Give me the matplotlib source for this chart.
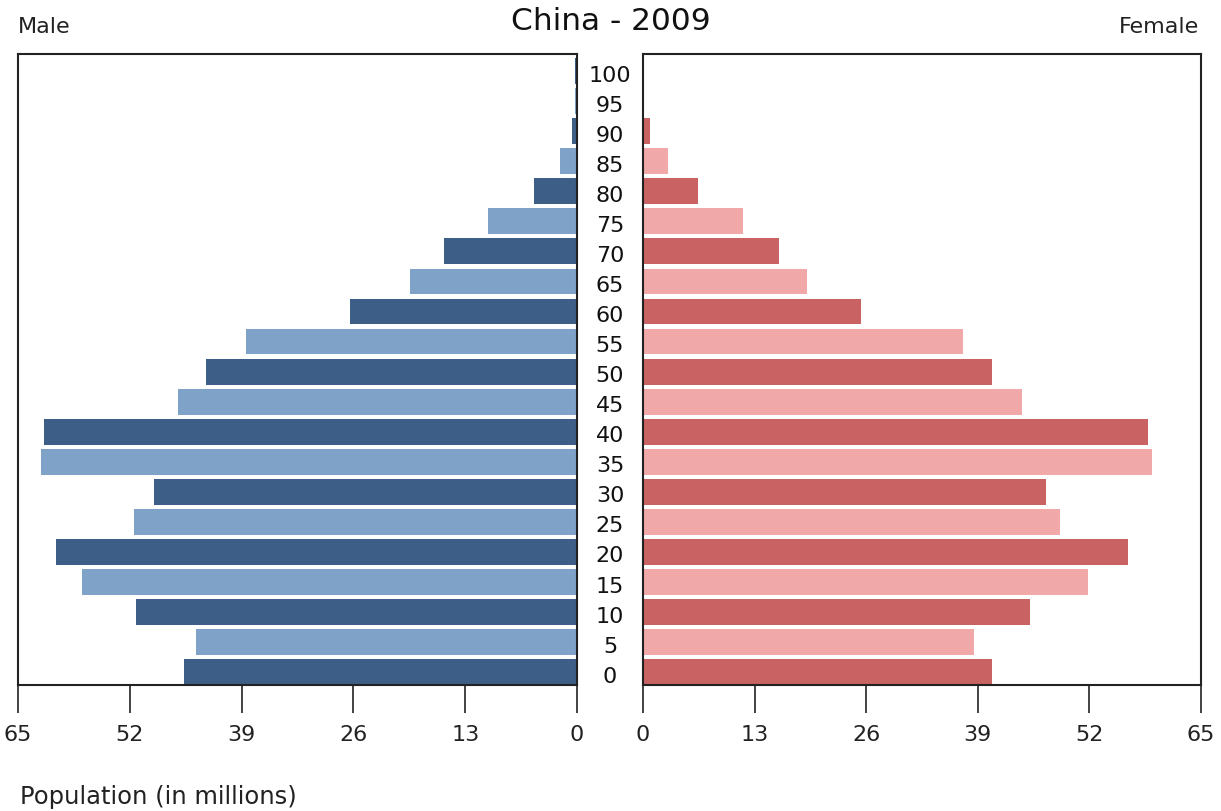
import numpy as np
import matplotlib
matplotlib.use('Agg')
import matplotlib.pyplot as plt
from matplotlib import transforms

# ── Data (millions) ────────────────────────────────────────────────
ages = [0, 5, 10, 15, 20, 25, 30, 35, 40, 45, 50,
        55, 60, 65, 70, 75, 80, 85, 90, 95, 100]
male = [45.7, 44.3, 51.3, 57.6, 60.6, 51.5, 49.2, 62.3, 62.0, 46.4, 43.1,
        38.5, 26.4, 19.4, 15.5, 10.3, 5.0, 2.0, 0.6, 0.2, 0.25]
female = [40.7, 38.6, 45.1, 51.8, 56.5, 48.6, 46.9, 59.3, 58.8, 44.1, 40.7,
          37.3, 25.4, 19.1, 15.8, 11.6, 6.4, 2.9, 0.8, 0.0, 0.0]
xticks = [0, 13, 26, 39, 52, 65]

male_cols = ['#3d5e87', '#7fa3c8']
female_cols = ['#c96262', '#f0a8a8']

W, H = 1221, 812
fig = plt.figure(figsize=(W / 100, H / 100), dpi=100)

ax_l = fig.add_axes([18 / W, 1 - 686 / H, (577 - 18) / W, 631 / H])
ax_r = fig.add_axes([643 / W, 1 - 686 / H, (1201 - 643) / W, 631 / H])

y = np.arange(len(ages))
ax_l.barh(y, male, height=0.86,
          color=[male_cols[i % 2] for i in range(len(ages))])
ax_r.barh(y, female, height=0.86,
          color=[female_cols[i % 2] for i in range(len(ages))])

for ax in (ax_l, ax_r):
    ax.set_ylim(-0.43, 20.57)
    ax.set_yticks([])
    ax.set_xticks(xticks)
    ax.set_xticklabels([str(t) for t in xticks], fontsize=16)
    ax.tick_params(axis='x', direction='out', length=20, width=1.2,
                   pad=8, colors='#222222')
    for s in ax.spines.values():
        s.set_linewidth(1.5)
        s.set_color('#222222')

ax_l.set_xlim(65, 0)
ax_r.set_xlim(0, 65)

# age labels between the two halves
trans = transforms.blended_transform_factory(fig.transFigure, ax_l.transData)
for i, a in enumerate(ages):
    fig.text(610 / W, i - 0.12, str(a), transform=trans, ha='center',
             va='center', fontsize=16, color='#111111')

fig.text(611 / W, 1 - 22 / H, 'China - 2009', ha='center', va='center',
         fontsize=22.5, color='#111111')
fig.text(18 / W, 1 - 27 / H, 'Male', ha='left', va='center',
         fontsize=16, color='#222222')
fig.text(1199 / W, 1 - 27 / H, 'Female', ha='right', va='center',
         fontsize=16, color='#222222')
fig.text(20 / W, 1 - 797 / H, 'Population (in millions)', ha='left',
         va='center', fontsize=17.5, color='#222222')

fig.savefig('out.png', dpi=100, facecolor='white')
